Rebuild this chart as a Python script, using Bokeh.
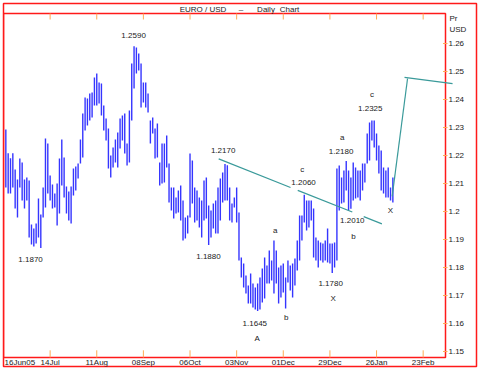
import numpy as np
from bokeh.plotting import figure
from bokeh.models import Range1d, ColumnDataSource
from bokeh.core.properties import value
from bokeh.embed import file_html
from bokeh.resources import INLINE

# ---------------- data (EUR/USD daily bars) ----------------
highs = [1.2293, 1.2208, 1.2190, 1.2208, 1.2150, 1.2114, 1.2189, 1.2175, 1.2114, 1.2121,
         1.2111, 1.1954, 1.1939, 1.1957, 1.2046, 1.1989, 1.2086, 1.2261, 1.2243, 1.2129,
         1.2096, 1.2064, 1.2100, 1.2189, 1.2257, 1.2193, 1.2089, 1.2071, 1.2089, 1.2154,
         1.2161, 1.2171, 1.2257, 1.2350, 1.2407, 1.2404, 1.2421, 1.2425, 1.2479, 1.2493,
         1.2461, 1.2457, 1.2379, 1.2332, 1.2296, 1.2200, 1.2229, 1.2257, 1.2282, 1.2332,
         1.2343, 1.2350, 1.2243, 1.2361, 1.2529, 1.2590, 1.2586, 1.2564, 1.2529, 1.2461,
         1.2461, 1.2421, 1.2325, 1.2336, 1.2296, 1.2314, 1.2175, 1.2243, 1.2243, 1.2271,
         1.2171, 1.2086, 1.2086, 1.2050, 1.2075, 1.2093, 1.2039, 1.1979, 1.1986, 1.2207,
         1.2182, 1.2086, 1.2075, 1.2050, 1.2039, 1.2111, 1.2121, 1.2021, 1.2004, 1.2029,
         1.2039, 1.2086, 1.2118, 1.2139, 1.2170, 1.2165, 1.2086, 1.2029, 1.2050, 1.2086,
         1.1996, 1.1836, 1.1814, 1.1771, 1.1736, 1.1779, 1.1743, 1.1729, 1.1743, 1.1764,
         1.1796, 1.1836, 1.1807, 1.1861, 1.1825, 1.1896, 1.1861, 1.1800, 1.1807, 1.1814,
         1.1764, 1.1825, 1.1807, 1.1814, 1.1832, 1.1896, 1.1986, 1.1986, 1.2060, 1.2039,
         1.2039, 1.2039, 1.2011, 1.1907, 1.1896, 1.1889, 1.1886, 1.1896, 1.1939, 1.1886,
         1.1886, 1.1889, 1.2154, 1.2164, 1.2121, 1.2146, 1.2180, 1.2146, 1.2121, 1.2175,
         1.2157, 1.2146, 1.2146, 1.2171, 1.2171, 1.2279, 1.2318, 1.2325, 1.2325, 1.2279,
         1.2236, 1.2218, 1.2157, 1.2146, 1.2157, 1.2086, 1.2121]
lows = [1.2086, 1.2064, 1.2064, 1.2086, 1.2011, 1.1979, 1.2086, 1.2039, 1.2011, 1.2039,
        1.1907, 1.1882, 1.1875, 1.1886, 1.1907, 1.1870, 1.1979, 1.2014, 1.2064, 1.2039,
        1.2011, 1.2014, 1.1950, 1.1993, 1.2093, 1.2050, 1.1993, 1.1968, 1.1957, 1.2057,
        1.2075, 1.2118, 1.2171, 1.2193, 1.2289, 1.2307, 1.2325, 1.2336, 1.2379, 1.2379,
        1.2386, 1.2343, 1.2289, 1.2254, 1.2154, 1.2121, 1.2157, 1.2175, 1.2157, 1.2225,
        1.2254, 1.2207, 1.2164, 1.2175, 1.2325, 1.2439, 1.2493, 1.2504, 1.2371, 1.2389,
        1.2371, 1.2354, 1.2243, 1.2279, 1.2189, 1.2193, 1.2093, 1.2100, 1.2104, 1.2157,
        1.2032, 1.2004, 1.1975, 1.1993, 1.1996, 1.1968, 1.1896, 1.1904, 1.1921, 1.1979,
        1.2029, 1.1961, 1.1968, 1.1943, 1.1907, 1.1968, 1.1975, 1.1880, 1.1907, 1.1939,
        1.1921, 1.1921, 1.1968, 1.2032, 1.2039, 1.2039, 1.1968, 1.1961, 1.2014, 1.1961,
        1.1825, 1.1764, 1.1729, 1.1707, 1.1671, 1.1671, 1.1657, 1.1650, 1.1645, 1.1650,
        1.1675, 1.1689, 1.1743, 1.1743, 1.1754, 1.1707, 1.1743, 1.1671, 1.1693, 1.1711,
        1.1654, 1.1746, 1.1718, 1.1693, 1.1736, 1.1789, 1.1825, 1.1896, 1.1961, 1.1932,
        1.1943, 1.1968, 1.1836, 1.1825, 1.1800, 1.1825, 1.1818, 1.1825, 1.1818, 1.1814,
        1.1780, 1.1800, 1.1825, 1.2004, 1.2029, 1.2032, 1.2075, 1.2004, 1.2010, 1.2039,
        1.2046, 1.2050, 1.2039, 1.2075, 1.2104, 1.2171, 1.2182, 1.2254, 1.2229, 1.2182,
        1.2136, 1.2075, 1.2064, 1.2050, 1.2050, 1.2039, 1.2032]

# trading-day index (0 = 16Jun05); ticks every 4 weeks (20 trading days)
first_label = "16Jun05"
tick_days = [20, 40, 60, 80, 100, 120, 140, 160, 180]
tick_labels = ["14Jul", "11Aug", "08Sep", "06Oct", "03Nov", "01Dec", "29Dec", "26Jan", "23Feb"]
price_ticks = [1.15, 1.16, 1.17, 1.18, 1.19, 1.20, 1.21, 1.22, 1.23, 1.24, 1.25, 1.26]

# wave annotations: (trading day, price, text)
ann_day = [55.8, 11.6, 87.9, 94.2, 128.1, 128.7, 145.3, 144.8, 149.6, 150.1, 166.0,
           158.0, 157.3, 116.5, 107.8, 108.8, 121.3, 140.3, 141.4]
ann_price = [1.2630, 1.1829, 1.1839, 1.2218, 1.2150, 1.2105, 1.2263, 1.2214, 1.1968,
             1.1912, 1.2002, 1.2418, 1.2367, 1.1932, 1.1601, 1.1545, 1.1623, 1.1742, 1.1688]
ann_text = ["1.2590", "1.1870", "1.1880", "1.2170", "c", "1.2060", "a", "1.2180", "1.2010",
            "b", "X", "c", "1.2325", "a", "1.1645", "A", "b", "1.1780", "X"]

# trend line (start/end in trading days and price) with its drawn gaps
trend_start = (92.3, 1.2188)
trend_end = (162.3, 1.1956)
trend_pieces = [(92.3, 123.1), (126.2, 149.6), (154.5, 162.3)]
# projection arrow
proj_day = [166.7, 173.3]
proj_price = [1.2054, 1.2475]
head_day = [172.0, 192.6]
head_price = [1.2479, 1.2457]

title_parts = ["EURO / USD", "\u2013", "Daily", "Chart"]
unit_parts = ["Pr", "USD"]

# ---------------- layout helpers (pixel geometry of the page) ----------------
W, H = 480, 370
PX_PER_DAY = 2.3315          # horizontal pixels per trading day
PX_PER_PRICE = 2800.0        # vertical pixels per 1.0 of price
def day_at(px):              # page x -> trading day
    return (px - 3) / PX_PER_DAY
def price_at(py):            # page y -> price
    return 1.26 - (py - 43) / PX_PER_PRICE

FONT = value("Liberation Sans")
FS = value("8px")
TXT = "#1a1a1a"
RED = "#ff1a1a"
ORANGE = "#ffaa55"
BLUE = "#3535ff"
TEAL = "#3a9a9a"

# outer box = plot frame; inner price box drawn inside it
p = figure(width=W, height=H, output_backend="svg", toolbar_location=None,
           x_range=Range1d(day_at(3), day_at(476)),
           y_range=Range1d(price_at(366), price_at(3)),
           x_axis_location=None, y_axis_location=None,
           min_border_left=3, min_border_right=W - 476,
           min_border_top=3, min_border_bottom=H - 366,
           background_fill_color="white", border_fill_color="white")
p.grid.visible = False
p.outline_line_color = RED
p.outline_line_width = 1.5
p.outline_line_alpha = 1.0

in_left, in_right = day_at(3), day_at(445)
in_top, in_bottom = price_at(13), price_at(357)
p.quad(left=[in_left], right=[in_right], top=[in_top], bottom=[in_bottom],
       fill_color=None, line_color=RED, line_width=1.5)

# orange ticks: top and bottom (dates) and right (prices)
tick_len = 6 / PX_PER_PRICE
p.segment(x0=tick_days, x1=tick_days, y0=[in_top] * len(tick_days),
          y1=[in_top - tick_len] * len(tick_days), line_color=ORANGE, line_width=1)
p.segment(x0=tick_days, x1=tick_days, y0=[in_bottom] * len(tick_days),
          y1=[in_bottom + tick_len * 1.2] * len(tick_days), line_color=ORANGE, line_width=1)
p.segment(x0=[day_at(442.5)] * len(price_ticks), x1=[day_at(447)] * len(price_ticks),
          y0=price_ticks, y1=price_ticks, line_color=ORANGE, line_width=1)

# date labels under the price box
p.text(x=tick_days, y=[price_at(362)] * len(tick_days), text=tick_labels,
       text_align="center", text_baseline="middle", text_font=FONT,
       text_font_size=FS, text_color=TXT)
p.text(x=[day_at(4)], y=[price_at(362)], text=[first_label], text_align="left",
       text_baseline="middle", text_font=FONT, text_font_size=FS, text_color=TXT)

# price labels on the right
price_labels = [f"{v:.2f}".rstrip("0") for v in price_ticks]
p.text(x=[day_at(448)] * len(price_ticks), y=price_ticks, text=price_labels,
       text_align="left", text_baseline="middle", text_font=FONT,
       text_font_size=FS, text_color=TXT)
p.text(x=[day_at(449)] * 2, y=[price_at(18), price_at(29)], text=unit_parts,
       text_align="left", text_baseline="middle", text_font=FONT,
       text_font_size=FS, text_color=TXT)

# title
p.text(x=[day_at(202.5), day_at(240.5), day_at(265.5), day_at(289)],
       y=[price_at(8.5)] * 4, text=title_parts, text_align="center",
       text_baseline="middle", text_font=FONT, text_font_size=FS, text_color=TXT)

# bars
n = len(highs)
src = ColumnDataSource(dict(x=np.arange(1, n + 1), high=highs, low=lows))
p.segment(x0="x", y0="low", x1="x", y1="high", source=src,
          line_color=BLUE, line_width=1.4)

# trend line pieces and projection arrow
slope = (trend_end[1] - trend_start[1]) / (trend_end[0] - trend_start[0])
xs = [[a, b] for a, b in trend_pieces]
ys = [[trend_start[1] + slope * (a - trend_start[0]),
       trend_start[1] + slope * (b - trend_start[0])] for a, b in trend_pieces]
p.multi_line(xs=xs, ys=ys, line_color=TEAL, line_width=1.2)
p.line(proj_day, proj_price, line_color=TEAL, line_width=1.2)
p.line(head_day, head_price, line_color=TEAL, line_width=1.2)

# wave annotations
p.text(x=ann_day, y=ann_price, text=ann_text, text_align="center",
       text_baseline="middle", text_font=FONT, text_font_size=FS, text_color=TXT)

open("out.html", "w").write(file_html(p, INLINE))
